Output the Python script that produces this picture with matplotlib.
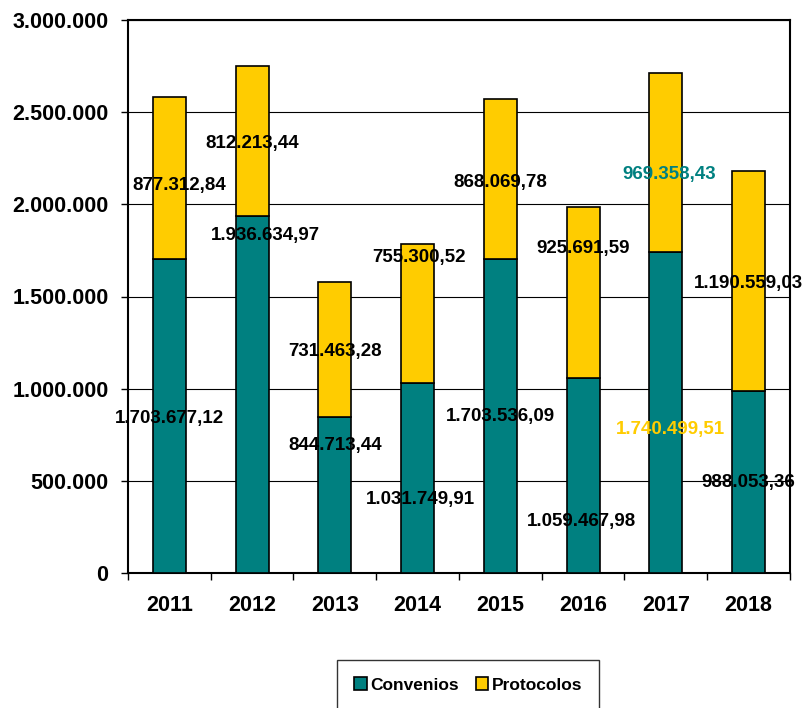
import matplotlib
matplotlib.use("Agg")
import matplotlib.pyplot as plt
from matplotlib.ticker import FuncFormatter, FixedLocator
import numpy as np

years = ["2011", "2012", "2013", "2014", "2015", "2016", "2017", "2018"]
convenios = [1703677.12, 1936634.97, 844713.44, 1031749.91, 1703536.09, 1059467.98, 1740499.51, 988053.36]
protocolos = [877312.84, 812213.44, 731463.28, 755300.52, 868069.78, 925691.59, 969358.43, 1190559.03]

# label placement (data units)
prot_label_y = [2.10e6, 2.33e6, 1.20e6, 1.71e6, 2.12e6, 1.76e6, 2.16e6, 1.57e6]
conv_label_y = [0.84e6, 1.83e6, 0.69e6, 0.40e6, 0.85e6, 0.28e6, 0.78e6, 0.49e6]
prot_label_dx = [0.12, 0, 0, 0.02, 0, 0, 0.04, 0]
conv_label_dx = [0, 0.16, 0, 0.04, 0, -0.02, 0.05, 0]

TEAL = "#008080"
GOLD = "#FFCC00"
prot_label_color = ["black"] * 8
prot_label_color[6] = TEAL
conv_label_color = ["black"] * 8
conv_label_color[6] = GOLD

REG = ["Liberation Sans", "DejaVu Sans"]


def fmt_es(v, dec=2):
    s = f"{v:,.{dec}f}"
    return s.replace(",", "X").replace(".", ",").replace("X", ".")


fig = plt.figure(figsize=(8.04, 7.08), dpi=100)
ax = fig.add_axes([128 / 804, 1 - 573 / 708, 662 / 804, 553 / 708])

x = np.arange(len(years))
w = 0.4
b1 = ax.bar(x, convenios, w, color=TEAL, edgecolor="black", linewidth=1.2, label="Convenios", zorder=3)
b2 = ax.bar(x, protocolos, w, bottom=convenios, color=GOLD, edgecolor="black", linewidth=1.2,
            label="Protocolos", zorder=3)

for i in range(len(years)):
    ax.text(x[i] + prot_label_dx[i], prot_label_y[i], fmt_es(protocolos[i]), ha="center", va="center",
            fontsize=13.5, fontweight="bold", family=REG, color=prot_label_color[i], zorder=5)
    ax.text(x[i] + conv_label_dx[i], conv_label_y[i], fmt_es(convenios[i]), ha="center", va="center",
            fontsize=13.5, fontweight="bold", family=REG, color=conv_label_color[i], zorder=5)

ax.set_xlim(-0.5, len(years) - 0.5)
ax.set_ylim(0, 3000000)
ax.set_yticks(np.arange(0, 3000001, 500000))
ax.yaxis.set_major_formatter(FuncFormatter(lambda v, p: fmt_es(v, 0)))
ax.yaxis.grid(True, color="black", linewidth=0.8, zorder=0)
ax.set_axisbelow(True)

ax.set_xticks(x)
ax.set_xticklabels(years)
ax.xaxis.set_minor_locator(FixedLocator(np.arange(-0.5, len(years), 1.0)))
ax.tick_params(axis="x", which="major", length=0, pad=16)
ax.tick_params(axis="x", which="minor", length=5, width=1.0, direction="out")
ax.tick_params(axis="y", which="major", length=5, width=1.0, direction="out", pad=9)

for lab in ax.get_xticklabels():
    lab.set_fontfamily(REG)
    lab.set_fontweight("bold")
    lab.set_fontsize(15.5)
for lab in ax.get_yticklabels():
    lab.set_fontfamily(REG)
    lab.set_fontweight("bold")
    lab.set_fontsize(15.5)

for s in ax.spines.values():
    s.set_linewidth(1.5)
    s.set_color("black")

leg = fig.legend(handles=[b1, b2], labels=["Convenios", "Protocolos"], loc="upper left",
                 bbox_to_anchor=(337 / 804, 1 - 660 / 708), ncol=2, frameon=True, fancybox=False,
                 edgecolor="black", borderpad=1.0, handlelength=0.7, handleheight=0.7,
                 handletextpad=0.2, columnspacing=1.0, borderaxespad=0,
                 prop={"family": REG, "weight": "bold", "size": 12.5})
leg.get_frame().set_linewidth(1.0)

fig.savefig("out.png", dpi=100)
